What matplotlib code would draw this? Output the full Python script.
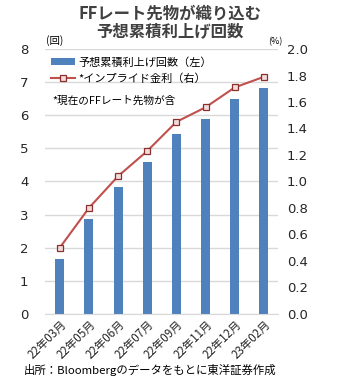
import numpy as np
import matplotlib
matplotlib.use('Agg')
import matplotlib.pyplot as plt
from matplotlib.patches import Patch
from matplotlib.lines import Line2D

plt.rcParams['font.family'] = ['Noto Sans CJK JP', 'DejaVu Sans']

# data
months = ['22年03月', '22年05月', '22年06月', '22年07月',
          '22年09月', '22年11月', '22年12月', '23年02月']
hikes = [1.65, 2.86, 3.83, 4.59, 5.44, 5.90, 6.49, 6.81]
implied_rate = [0.50, 0.80, 1.04, 1.23, 1.45, 1.56, 1.71, 1.79]

barBlue = '#4F81BD'
lineRed = '#C0504D'
gridGray = '#D9D9D9'
txtGray = '#404040'
tickGray = '#262626'

fig = plt.figure(figsize=(3.4, 3.8), dpi=100)
ax1 = fig.add_axes([0.133, 0.174, 0.686, 0.697])
ax2 = ax1.twinx()

x = np.arange(len(months))
ax1.bar(x, hikes, width=0.31, color=barBlue, zorder=2)
ax2.plot(x, implied_rate, color=lineRed, linewidth=1.5,
         marker='s', markersize=5, markerfacecolor='#F2DCDB',
         markeredgecolor='#8B2E2B', markeredgewidth=0.9, zorder=3)

ax1.set_xlim(-0.5, len(months) - 0.5)
ax1.set_ylim(0, 8)
ax2.set_ylim(0, 2.0)
ax1.set_yticks(range(0, 9))
ax2.set_yticks(np.arange(0, 2.01, 0.2))
ax2.set_yticklabels(['%.1f' % v for v in np.arange(0, 2.01, 0.2)])

ax1.yaxis.grid(True, color=gridGray, linewidth=1.0)
ax1.set_axisbelow(True)

for a in (ax1, ax2):
    for s in a.spines.values():
        s.set_visible(False)
    a.tick_params(length=0)
ax1.spines['bottom'].set_visible(True)
ax1.spines['bottom'].set_color(gridGray)

ax1.set_xticks(x)
ax1.set_xticklabels(months, rotation=45, ha='right', rotation_mode='anchor',
                    fontsize=8.3, color=tickGray)
ax1.tick_params(axis='x', pad=3)
ax1.tick_params(axis='y', labelsize=9.5, colors=tickGray, pad=12)
ax2.tick_params(axis='y', labelsize=9.5, colors=tickGray, pad=6)
for lab in ax1.get_yticklabels() + ax2.get_yticklabels():
    lab.set_family('DejaVu Sans')

# unit labels
fig.text(0.135, 0.878, '(回)', fontsize=7.5, color='k', va='bottom')
fig.text(0.79, 0.878, '(%)', fontsize=6.5, color='k', va='bottom')

# legend
handles = [Patch(facecolor=barBlue, edgecolor='none'),
           Line2D([0], [0], color=lineRed, linewidth=1.5, marker='s',
                  markersize=4.5, markerfacecolor='#F2DCDB',
                  markeredgecolor='#8B2E2B', markeredgewidth=0.9)]
leg = ax1.legend(handles, ['予想累積利上げ回数（左）', '*インプライド金利（右）'],
                 loc='upper left', bbox_to_anchor=(-0.005, 0.995),
                 frameon=False, fontsize=8, handlelength=2.2,
                 handleheight=0.5, handletextpad=0.3, labelspacing=0.5,
                 borderaxespad=0.2)
for t in leg.get_texts():
    t.set_color('k')
fig.text(0.155, 0.735, '*現在のFFレート先物が含', fontsize=7.7, color='k',
         va='center')

# title
fig.text(0.5, 0.965, 'FFレート先物が織り込む', fontsize=11.8, fontweight='bold',
         color=txtGray, ha='center', va='center')
fig.text(0.5, 0.918, '予想累積利上げ回数', fontsize=11.8, fontweight='bold',
         color=txtGray, ha='center', va='center')

# source
fig.text(0.07, 0.025, '出所：Bloombergのデータをもとに東洋証券作成',
         fontsize=8.2, color='k', va='center')

fig.savefig('out.png', dpi=100)
